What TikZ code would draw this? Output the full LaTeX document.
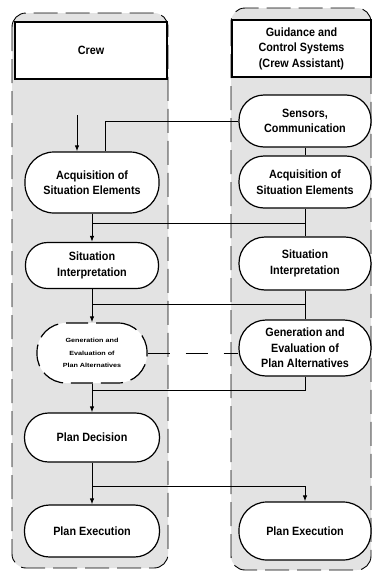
\documentclass[tikz,border=0pt]{standalone}
\usepackage{fontspec}
\newfontfamily\labelfont{Liberation Sans}[FakeStretch=0.9]
\newfontfamily\tinyfont{Liberation Sans}[FakeStretch=1.2]
\usetikzlibrary{arrows.meta}

\begin{document}
\begin{tikzpicture}[x=1pt, y=-1pt,
    lane/.style={draw, dash pattern=on 24pt off 8pt, line width=0.9pt, fill=gray!22, rounded corners=14pt},
    head/.style={draw, rectangle, fill=white, line width=1.2pt, align=center},
    task/.style={draw, rectangle, rounded corners=22pt, fill=white, line width=1.2pt, align=center},
    flow/.style={line width=1pt},
    arr/.style={line width=1pt, -{Latex[length=6pt,width=4.5pt]}},
    font=\labelfont\bfseries\fontsize{12}{15.5}\selectfont]
    \useasboundingbox (0,0) rectangle (372,573);

    % the two lanes
    \draw[lane] (12,13) rectangle (168,568);
    \draw[lane] (231,8) rectangle (371,570);

    % crew side
    \node[head, minimum width=152pt, minimum height=57pt] (crew) at (91,50.5) {Crew};
    \node[task, rounded corners=29pt, minimum width=134pt, minimum height=61pt] (acq) at (92,182.5) {Acquisition of\\Situation Elements};
    \node[task, minimum width=133pt, minimum height=46pt] (interp) at (92,265.5) {Situation\\Interpretation};
    \node[task, rounded corners=29pt, dash pattern=on 22pt off 8pt, minimum width=110pt, minimum height=60pt,
          font=\tinyfont\bfseries\fontsize{6}{12.5}\selectfont] (gen) at (92,353) {Generation and\\Evaluation of\\Plan Alternatives};
    \node[task, rounded corners=24pt, minimum width=135pt, minimum height=49pt] (decision) at (92,437.5) {Plan Decision};
    \node[task, rounded corners=25pt, minimum width=135pt, minimum height=52pt] (exec) at (92,531) {Plan Execution};

    % assistant side
    \node[head, minimum width=139pt, minimum height=57pt] (gcs) at (301.5,48.5) {Guidance and\\Control Systems\\(Crew Assistant)};
    \node[task, rounded corners=25pt, minimum width=132pt, minimum height=52pt] (sensors) at (305,121) {Sensors,\\Communication};
    \node[task, rounded corners=25pt, minimum width=132pt, minimum height=52pt] (acqgc) at (305,182) {Acquisition of\\Situation Elements};
    \node[task, rounded corners=26pt, minimum width=132pt, minimum height=53pt] (interpgc) at (305,263.5) {Situation\\Interpretation};
    \node[task, rounded corners=27pt, minimum width=132pt, minimum height=56pt] (gengc) at (305,348) {Generation and\\Evaluation of\\Plan Alternatives};
    \node[task, rounded corners=28pt, minimum width=132pt, minimum height=58pt] (execgc) at (305,531) {Plan Execution};

    \coordinate (crewout) at (77,115);
    \coordinate (sensbend) at (105,121);
    \coordinate (j1) at (305,223);
    \coordinate (j2) at (305,304);
    \coordinate (j3) at (305,390);
    \coordinate (j4) at (92,486);

    % crew flow
    \draw[arr] (crewout) -- (crewout |- acq.north);
    \draw[arr] (acq) -- (interp);
    \draw[arr] (interp) -- (gen);
    \draw[arr] (gen) -- (decision);
    \draw[arr] (decision) -- (exec);
    \draw[arr] (j4) -| (execgc.north);

    % assistant flow and links across
    \draw[flow] (sensors.west) -| (acq.north -| sensbend);
    \draw[flow] (sensors) -- (acqgc);
    \draw[flow] (acqgc) -- (interpgc);
    \draw[flow] (interpgc) -- (gengc);
    \draw[flow] (gengc.south) -- (j3) -- (j3 -| decision);
    \draw[flow] (j1) -- (j1 -| acq);
    \draw[flow] (j2) -- (j2 -| interp);
    \draw[flow, dash pattern=on 22pt off 16pt] (gen.east) -- (gen.east -| gengc.west);
\end{tikzpicture}
\end{document}
